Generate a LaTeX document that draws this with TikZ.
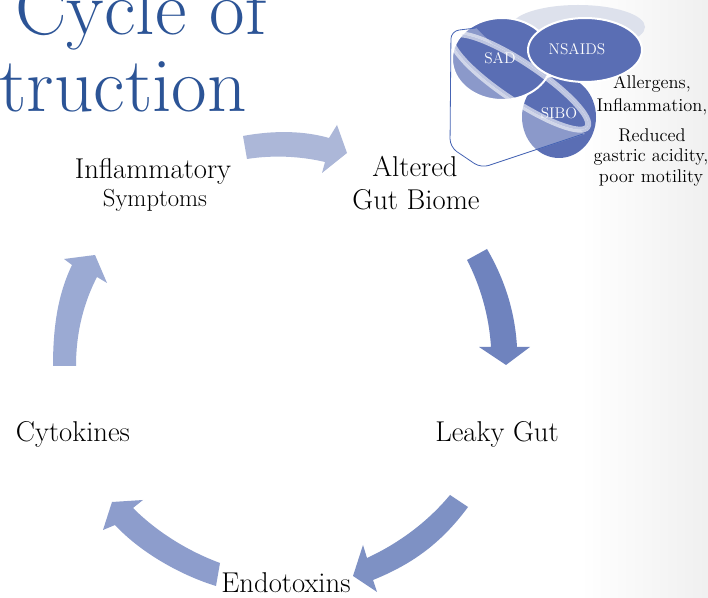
\documentclass[tikz,border=0pt]{standalone}
\usepackage{tikz}
\definecolor{titleblue}{RGB}{44,84,150}
\definecolor{vennblue}{RGB}{90,110,180}
\definecolor{palevenn}{RGB}{221,225,236}
\definecolor{outlineblue}{RGB}{70,100,180}
\definecolor{arrA}{RGB}{172,183,216}
\definecolor{arrB}{RGB}{111,131,190}
\definecolor{arrC}{RGB}{126,145,196}
\definecolor{arrD}{RGB}{141,157,204}
\definecolor{arrE}{RGB}{155,170,211}
\newcommand\myvennshapes{%
  \fill[palevenn] (578,27) ellipse [x radius=67, y radius=22];
  \fill[vennblue] (559,117) ellipse [x radius=37, y radius=41];
  \filldraw[vennell] (502,59) ellipse [x radius=50, y radius=41];
  \filldraw[vennell] (585,50) ellipse [x radius=57, y radius=32];
}
\begin{document}
\begin{tikzpicture}[x=0.75pt,y=-0.75pt,
  lbl/.style={font=\fontsize{21.5}{25}\selectfont, anchor=base, inner sep=0pt},
  smalllbl/.style={font=\fontsize{18.5}{22}\selectfont, anchor=base, inner sep=0pt},
  sidelbl/.style={font=\fontsize{13.8}{16}\selectfont, anchor=base, inner sep=0pt},
  vennlbl/.style={font=\fontsize{11.6}{13}\selectfont, text=white, inner sep=0pt},
  titlelbl/.style={font=\fontsize{58}{64}\selectfont, text=titleblue, inner sep=0pt},
  vennell/.style={fill=vennblue, draw=white, line width=1.5pt}]
\useasboundingbox (0,0) rectangle (708,598);
\clip (0,0) rectangle (708,598);
% background
\fill[white] (0,0) rectangle (708,598);
\shade[left color=white, right color=black!6] (580,0) rectangle (708,598);

% title
\node[titlelbl, anchor=base west] (t1) at (15,35) {Cycle of};
\node[titlelbl, anchor=base east] (t2) at (247,112) {truction};

% side text (under SIBO)
\node[sidelbl] (s1) at (652,89) {Allergens,};
\node[sidelbl] (s2) at (652,112) {Inflammation,};
\node[sidelbl] (s3) at (652,142) {Reduced};
\node[sidelbl] (s4) at (651,162) {gastric acidity,};
\node[sidelbl] (s5) at (651,183) {poor motility};

% venn
\myvennshapes
\fill[white, opacity=0.3] (476,28) -- (451,31) -- (450,147) -- (481,168) -- (585,134) -- cycle;
\begin{scope}
  \clip[rotate around={-33.7:(520,82)}] (520,82) ellipse [x radius=81, y radius=19];
  \fill[white] (440,0) rectangle (660,180);
  \myvennshapes
\end{scope}
\draw[white, opacity=0.6, line width=4.5pt, rotate around={-33.7:(520,82)}] (520,82) ellipse [x radius=81, y radius=19];
\draw[outlineblue, line width=0.6pt, rounded corners=6] (476,28) -- (451,31) -- (450,147) -- (481,168) -- (583,134);
\node[vennlbl] (sad) at (500,58) {SAD};
\node[vennlbl] (nsaids) at (577,49) {NSAIDS};
\node[vennlbl] (sibo) at (559,113) {SIBO};

% cycle labels
\node[lbl] (infl) at (153,179) {Inflammatory};
\node[smalllbl] (sympt) at (155,207) {Symptoms};
\node[lbl] (alt) at (415,177) {Altered};
\node[lbl] (gut) at (416,210) {Gut Biome};
\node[lbl] (leaky) at (497,442) {Leaky Gut};
\node[lbl] (endo) at (286,593) {Endotoxins};
\node[lbl] (cyto) at (73,442) {Cytokines};

% block arrows
\fill[arrA] (243,136) .. controls (275,130) and (305,131) .. (329,138)
  -- (337,125) -- (347,153) -- (322,173) -- (325,162)
  .. controls (300,156) and (272,155) .. (247,159) -- cycle;
\fill[arrB] (467,260) .. controls (480,285) and (489,315) .. (491,347)
  -- (479,347) -- (506,365) -- (530,347) -- (517,347)
  .. controls (515,312) and (505,280) .. (487,249) -- cycle;
\fill[arrC] (450,495) .. controls (425,525) and (395,545) .. (367,558)
  -- (363,545) -- (353,576) -- (377,592) -- (373,580)
  .. controls (410,565) and (440,545) .. (468,507) -- cycle;
\fill[arrD] (220,563) .. controls (185,550) and (155,530) .. (133,508)
  -- (143,500) -- (112,502) -- (103,530) -- (115,525)
  .. controls (140,552) and (180,575) .. (216,586) -- cycle;
\fill[arrE] (53,366) .. controls (53,320) and (60,290) .. (72,265)
  -- (64,259) -- (95,255) -- (107,283) -- (97,277)
  .. controls (85,300) and (76,330) .. (76,366) -- cycle;
\end{tikzpicture}
\end{document}
